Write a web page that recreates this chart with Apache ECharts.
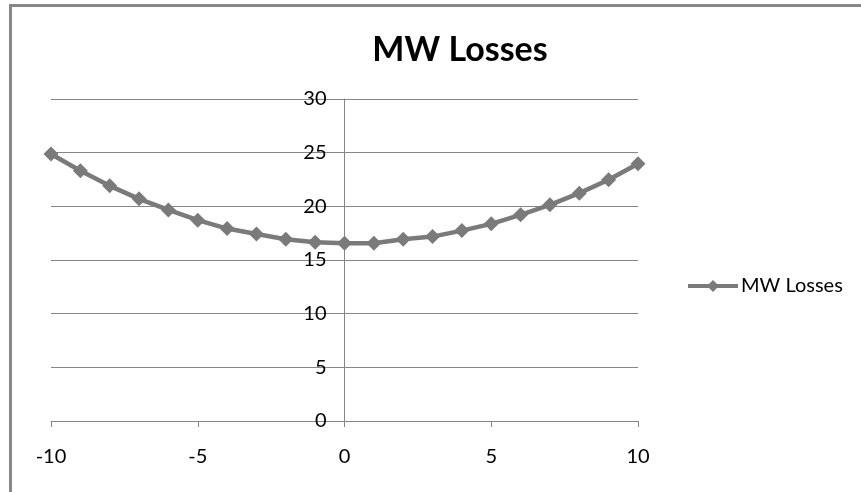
<!DOCTYPE html>
<html>
<head>
<meta charset="utf-8">
<script src="https://cdn.jsdelivr.net/npm/echarts@6/dist/echarts.min.js"></script>
<style>html,body{margin:0;padding:0;background:#fff}#c{width:861px;height:492px}</style>
</head>
<body>
<div id="c"></div>
<script>
const chartTitle = 'MW Losses';
const seriesName = 'MW Losses';
const xValues = [-10, -9, -8, -7, -6, -5, -4, -3, -2, -1, 0, 1, 2, 3, 4, 5, 6, 7, 8, 9, 10];
const lossValues = [24.87, 23.31, 21.91, 20.70, 19.67, 18.71, 17.93, 17.43, 16.94, 16.66, 16.56, 16.56, 16.94, 17.18, 17.74, 18.37, 19.21, 20.14, 21.23, 22.47, 23.97];
const xTicks = [-10, -5, 0, 5, 10];
const yTicks = [0, 5, 10, 15, 20, 25, 30];

const FONT = 'Lato, "Liberation Sans", sans-serif';
const AXIS = '#868686';
const GRID_LEFT = 51, GRID_RIGHT = 223, W = 861;
const plotW = W - GRID_LEFT - GRID_RIGHT;
const xMin = xTicks[0], xMax = xTicks[xTicks.length - 1];
const yAxisOffset = -plotW * (0 - xMin) / (xMax - xMin);

const chart = echarts.init(document.getElementById('c'), null, {renderer: 'canvas'});
chart.setOption({
  animation: false,
  backgroundColor: '#fff',
  title: {
    text: chartTitle, left: 455, top: 28, textAlign: 'center',
    textStyle: {fontFamily: FONT, fontWeight: 'bold', fontSize: 34, color: '#000'}
  },
  legend: {
    left: 686, top: 276, padding: 0, itemWidth: 50, itemHeight: 15, itemGap: 4,
    textStyle: {fontFamily: FONT, fontSize: 20, color: '#000', padding: [0, 0, 0, -2]},
    lineStyle: {width: 4},
    data: [seriesName]
  },
  graphic: [{
    type: 'rect', left: 8, top: 3, silent: true,
    shape: {x: 0, y: 0, width: 900, height: 600},
    style: {fill: 'none', stroke: '#878787', lineWidth: 3}
  }],
  grid: {left: GRID_LEFT, right: GRID_RIGHT, top: 99, bottom: 71, containLabel: false},
  xAxis: {
    type: 'value', min: xMin, max: xMax, interval: xTicks[1] - xTicks[0],
    axisLine: {show: true, onZero: false, lineStyle: {color: AXIS, width: 1}},
    axisTick: {show: true, length: 6, lineStyle: {color: AXIS}},
    axisLabel: {fontFamily: FONT, fontSize: 20, color: '#000', margin: 26},
    splitLine: {show: false}
  },
  yAxis: {
    type: 'value', min: yTicks[0], max: yTicks[yTicks.length - 1], interval: yTicks[1] - yTicks[0],
    offset: yAxisOffset,
    axisLine: {show: true, onZero: false, lineStyle: {color: AXIS, width: 1}},
    axisTick: {show: true, length: 6, lineStyle: {color: AXIS}},
    axisLabel: {fontFamily: FONT, fontSize: 20, color: '#000', margin: 18},
    splitLine: {show: true, lineStyle: {color: AXIS, width: 1}}
  },
  series: [{
    name: seriesName, type: 'line',
    data: xValues.map((x, i) => [x, lossValues[i]]),
    symbol: 'diamond', symbolSize: 15,
    lineStyle: {color: '#7a7a7a', width: 4.5},
    itemStyle: {color: '#7a7a7a'}
  }]
});
</script>
</body>
</html>
